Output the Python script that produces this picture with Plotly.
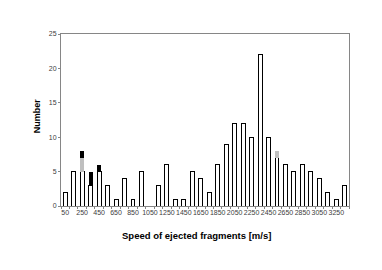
import plotly.graph_objects as go

speeds = [str(v) for v in range(50, 3351, 100)]
white_counts = [2, 5, 5, 3, 5, 3, 1, 4, 1, 5, 0, 3, 6, 1, 1, 5, 4, 2, 6, 9, 12, 12, 10, 22, 10, 7, 6, 5, 6, 5, 4, 2, 1, 3]
gray_counts = [0, 0, 2, 0, 0, 0, 0, 0, 0, 0, 0, 0, 0, 0, 0, 0, 0, 0, 0, 0, 0, 0, 0, 0, 0, 1, 0, 0, 0, 0, 0, 0, 0, 0]
black_counts = [0, 0, 1, 2, 1, 0, 0, 0, 0, 0, 0, 0, 0, 0, 0, 0, 0, 0, 0, 0, 0, 0, 0, 0, 0, 0, 0, 0, 0, 0, 0, 0, 0, 0]
tick_text = [s if i % 2 == 0 else "" for i, s in enumerate(speeds)]
x_title = "Speed of ejected fragments [m/s]"
y_title = "Number"

fig = go.Figure()
fig.add_trace(go.Bar(x=speeds, y=white_counts, marker=dict(color="white", line=dict(color="black", width=1)), width=0.47))
fig.add_trace(go.Bar(x=speeds, y=gray_counts, marker=dict(color="#bfbfbf", line=dict(color="#bfbfbf", width=0)), width=0.47))
fig.add_trace(go.Bar(x=speeds, y=black_counts, marker=dict(color="black", line=dict(color="black", width=0)), width=0.47))

title_font = dict(family="Liberation Sans Narrow, Liberation Sans, sans-serif", color="black")
fig.update_layout(
    barmode="stack",
    width=382, height=270,
    margin=dict(l=53, r=41, t=26, b=72),
    plot_bgcolor="white", paper_bgcolor="white",
    showlegend=False,
    font=dict(family="Liberation Sans Narrow, Liberation Sans, sans-serif", color="#404040"),
    xaxis=dict(
        type="category", tickmode="array", tickvals=speeds, ticktext=tick_text,
        tickangle=0, tickfont=dict(size=7, color="#404040"), showline=True, linecolor="#868686", linewidth=1,
        mirror=True, showgrid=False, ticks="outside", tickson="boundaries", ticklen=2, tickcolor="#868686",
        automargin=False,
    ),
    yaxis=dict(
        range=[0, 25], tickvals=[0, 5, 10, 15, 20, 25], tickfont=dict(size=7, color="#404040"),
        showline=True, linecolor="#868686", linewidth=1, mirror=True, showgrid=False,
        ticks="outside", ticklen=2, tickcolor="#868686", zeroline=False, automargin=False,
    ),
    annotations=[
        dict(text="<b>" + x_title + "</b>", xref="paper", yref="paper", x=0.469, y=-0.169,
             xanchor="center", yanchor="middle", showarrow=False, font=dict(size=9.5, **title_font)),
        dict(text="<b>" + y_title + "</b>", xref="paper", yref="paper", x=-0.083, y=0.523,
             xanchor="center", yanchor="middle", textangle=-90, showarrow=False, font=dict(size=9, **title_font)),
    ],
)
fig.write_html("out.html")
